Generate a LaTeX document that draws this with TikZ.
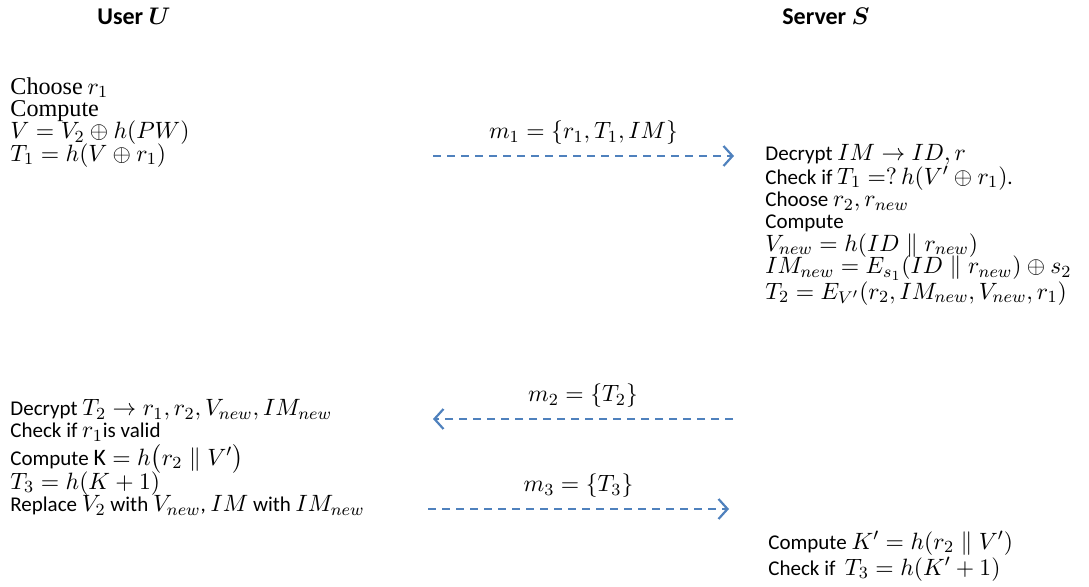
\RequirePackage{fix-cm}
\documentclass[tikz,border=0pt]{standalone}
\usepackage{amsmath}
\usepackage{bm}
\usepackage{fontspec}
\setmainfont{Carlito}
\newfontfamily\cambfont{Liberation Serif}[Scale=1.15]
\usetikzlibrary{arrows.meta,positioning}
\DeclareMathSizes{10.5}{11.8}{8.5}{7}
\definecolor{msgblue}{HTML}{4F81BD}
\newcommand\evenlines{\lineskiplimit=-100pt\relax}

\begin{document}
\begin{tikzpicture}[
  x=0.5pt, y=-0.5pt,
  >={Straight Barb[length=4.5pt,width=10pt,line width=1.1pt]},
  msg/.style={->, draw=msgblue, line width=1.2pt, dash pattern=on 4pt off 3pt},
  txt/.style={align=left, anchor=north west, inner sep=0pt, font={\fontsize{10.5}{11.2}\selectfont\evenlines}},
  ttl/.style={font=\fontsize{12}{14}\selectfont\bfseries, inner sep=0pt},
  lbl/.style={font=\fontsize{10.5}{11}\selectfont, inner sep=0pt}]
\useasboundingbox (0,0) rectangle (1089,587);
\node[ttl] (usr) at (134,16) {User $\bm{U}$};
\node[ttl] (srv) at (826,16) {Server $\bm{S}$};
\node[txt] (uone) at (10,77) {{\cambfont Choose} $r_1$\\ {\cambfont Compute}\\ $V = V_2 \oplus h(PW)$\\ $T_1 = h(V \oplus r_1)$};
\node[txt] (sone) at (765,144) {Decrypt $IM \rightarrow ID, r$\\[0.6pt] Check if $T_1 =?\, h(V' \oplus r_1)$.\\ Choose $r_2, r_{new}$\\ Compute\\ $V_{new} = h(ID \parallel r_{new})$\\ $IM_{new} = E_{s_1}(ID \parallel r_{new}) \oplus s_2$\\[1.6pt] $T_2 = E_{V'}(r_2, IM_{new}, V_{new}, r_1)$};
\node[txt] (utwo) at (10,399) {Decrypt $T_2 \rightarrow r_1, r_2, V_{new}, IM_{new}$\\ Check if $r_1$is valid\\[2.4pt] Compute $\mathrm{K} = h\bigl(r_2 \parallel V'\bigr)$\\[0.8pt] $T_3 = h(K+1)$\\ Replace $V_2$ with $V_{new}$, $IM$ with $IM_{new}$};
\node[txt] (stwo) at (768,531) {Compute $K' = h(r_2 \parallel V')$\\[1.6pt] Check if\ \ $T_3 = h(K'+1)$};
% messages
\coordinate (mone1) at (433,156);
\coordinate (mone2) at (734,156);
\coordinate (mtwo1) at (733,419);
\coordinate (mtwo2) at (433,419);
\coordinate (mthree1) at (428,509);
\coordinate (mthree2) at (729,509);
\draw[msg] (mone1) -- node[lbl, above=5pt]{$m_1 = \{r_1, T_1, IM\}$} (mone2);
\draw[msg] (mtwo1) -- node[lbl, above=5pt]{$m_2 = \{T_2\}$} (mtwo2);
\draw[msg] (mthree1) -- node[lbl, above=5pt]{$m_3 = \{T_3\}$} (mthree2);
\end{tikzpicture}
\end{document}
